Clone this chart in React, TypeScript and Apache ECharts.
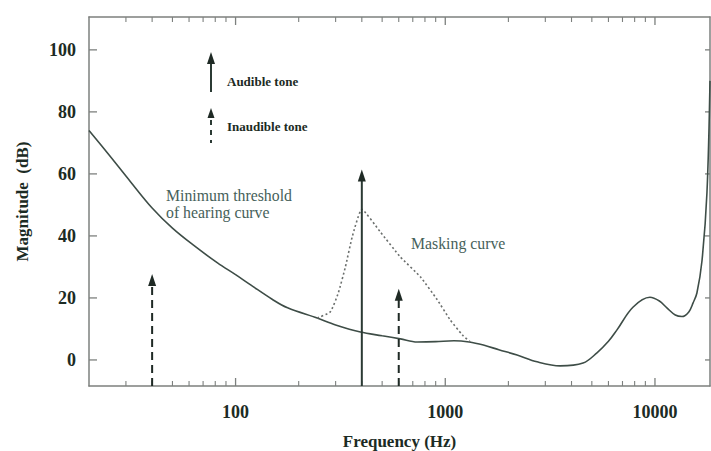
import React, { useEffect, useRef } from "react";
import * as echarts from "echarts";

// Minimum threshold of hearing curve
const thresholdHz = [20, 25, 31.6, 40, 50, 63, 82, 100, 118, 150, 177, 245, 300, 394, 500, 611, 735, 900, 1100, 1300, 1520, 1800, 2200, 2740, 3530, 4540, 5290, 6000, 6590, 7850, 9460, 10500, 11400, 12500, 13450, 14500, 15200, 15850, 16760, 17700, 18300];
const thresholdDb = [74, 66, 57.4, 49, 42.5, 37, 31.3, 27.5, 24.2, 19.5, 16.8, 13.5, 11.3, 9, 7.8, 6.8, 5.8, 5.9, 6.2, 5.8, 4.8, 3.3, 1.6, -0.6, -1.9, -1, 2.3, 6, 9.7, 17, 20.2, 19, 16.8, 14.5, 14, 15.5, 18.4, 21.6, 32, 54, 90];

// Masking curve around the 400 Hz tone
const maskingHz = [245, 283, 309, 334, 360, 400, 490, 611, 761, 916, 1056, 1205, 1315];
const maskingDb = [13.5, 15.5, 21.6, 30, 39.7, 48.6, 41.3, 33.2, 26.8, 19.4, 12.9, 8.1, 5.8];

// Tones (arrow head centre level)
const audibleToneHz = [400];
const audibleToneDb = [59.5];
const inaudibleToneHz = [40, 600];
const inaudibleToneDb = [25.8, 21];

const yTicks = [0, 20, 40, 60, 80, 100];
const xMajorHz = [100, 1000, 10000];
const xMinorHz = [30, 40, 50, 60, 70, 80, 90, 200, 300, 400, 500, 600, 700, 800, 900, 2000, 3000, 4000, 5000, 6000, 7000, 8000, 9000];

const X_MIN_HZ = 20;
const X_MAX_HZ = 18300;
const Y_MIN = -8.4;
const Y_MAX = 110.6;

const lg = (v: number) => Math.log10(v);
const SERIF = "'Liberation Serif', 'DejaVu Serif', serif";
const TEXT = "#1c2b24";
const AXIS = "#7d807e";
const CURVE = "#3e4d47";

export default function App() {
  const ref = useRef<HTMLDivElement>(null);

  useEffect(() => {
    if (!ref.current) return;
    const chart = echarts.init(ref.current, undefined, { renderer: "svg" });

    const baseX = {
      type: "value" as const,
      min: lg(X_MIN_HZ),
      max: lg(X_MAX_HZ),
      splitLine: { show: false },
      axisTick: { show: false },
      axisLine: { show: true, onZero: false, lineStyle: { color: AXIS, width: 1.5 } },
    };

    const toneSeries = (hz: number[], db: number[], dashed: boolean) =>
      hz.map((f, i) => ({
        type: "line",
        xAxisIndex: 0,
        yAxisIndex: 0,
        silent: true,
        z: 5,
        lineStyle: dashed
          ? { color: "#1f2a25", width: 2, type: [8, 5] }
          : { color: "#2b3a34", width: 2 },
        data: [
          { value: [lg(f), Y_MIN], symbol: "none" },
          { value: [lg(f), db[i]], symbol: "triangle", symbolSize: [8, 12] },
        ],
        itemStyle: { color: "#1f2a25" },
      }));

    // tick marks drawn through the axes' own scales
    const tickSeries = (data: number[][], size: number[], offset: number[]) => ({
      type: "scatter",
      xAxisIndex: 0,
      yAxisIndex: 0,
      silent: true,
      clip: false,
      symbol: "rect",
      symbolSize: size,
      symbolOffset: offset,
      itemStyle: { color: AXIS, opacity: 1 },
      data,
      z: 2,
    });

    chart.setOption({
      animation: false,
      backgroundColor: "#ffffff",
      grid: { left: 89, right: 1, top: 17, bottom: 65, outerBoundsMode: "none", containLabel: false },
      xAxis: [
        {
          ...baseX,
          position: "bottom",
          name: "Frequency (Hz)",
          nameLocation: "middle",
          nameGap: 47,
          nameTextStyle: { fontFamily: SERIF, fontSize: 17, fontWeight: "bold", color: TEXT },
          axisLabel: {
            show: true,
            customValues: xMajorHz.map(lg),
            formatter: (v: number) => String(Math.round(Math.pow(10, v))),
            fontFamily: SERIF,
            fontSize: 18,
            fontWeight: "bold",
            color: TEXT,
            margin: 17,
          },
        },
        {
          ...baseX,
          position: "top",
          axisLabel: { show: false },
        },
      ],
      yAxis: [
        {
          type: "value",
          min: Y_MIN,
          max: Y_MAX,
          position: "left",
          name: "Magnitude  (dB)",
          nameLocation: "middle",
          nameGap: 58,
          nameTextStyle: { fontFamily: SERIF, fontSize: 17, fontWeight: "bold", color: TEXT },
          splitLine: { show: false },
          axisTick: { show: false },
          axisLine: { show: true, onZero: false, lineStyle: { color: AXIS, width: 1.5 } },
          axisLabel: {
            show: true,
            customValues: yTicks,
            fontFamily: SERIF,
            fontSize: 18,
            fontWeight: "bold",
            color: TEXT,
            margin: 13,
          },
        },
        {
          type: "value",
          min: Y_MIN,
          max: Y_MAX,
          position: "right",
          splitLine: { show: false },
          axisTick: { show: false },
          axisLine: { show: true, onZero: false, lineStyle: { color: AXIS, width: 1.5 } },
          axisLabel: { show: false },
        },
      ],
      series: [
        {
          type: "line",
          name: "Minimum threshold of hearing curve",
          xAxisIndex: 0,
          yAxisIndex: 0,
          smooth: 0.35,
          symbol: "none",
          lineStyle: { color: CURVE, width: 1.6 },
          data: thresholdHz.map((f, i) => [lg(f), thresholdDb[i]]),
          z: 3,
        },
        {
          type: "line",
          name: "Masking curve",
          xAxisIndex: 0,
          yAxisIndex: 0,
          smooth: 0.15,
          symbol: "none",
          lineStyle: { color: "#6b6f6d", width: 1.6, type: [2, 2.5] },
          data: maskingHz.map((f, i) => [lg(f), maskingDb[i]]),
          z: 4,
        },
        ...toneSeries(audibleToneHz, audibleToneDb, false),
        ...toneSeries(inaudibleToneHz, inaudibleToneDb, true),
        // bottom ticks
        tickSeries(xMajorHz.map((f) => [lg(f), Y_MIN]), [1.3, 8], [0, -4]),
        tickSeries(xMinorHz.map((f) => [lg(f), Y_MIN]), [1.1, 5], [0, -2.5]),
        // top ticks
        tickSeries(xMajorHz.map((f) => [lg(f), Y_MAX]), [1.3, 8], [0, 4]),
        tickSeries(xMinorHz.map((f) => [lg(f), Y_MAX]), [1.1, 5], [0, 2.5]),
        // left / right ticks
        tickSeries(yTicks.map((v) => [lg(X_MIN_HZ), v]), [8, 1.3], [4, 0]),
        tickSeries(yTicks.map((v) => [lg(X_MAX_HZ), v]), [5, 1.3], [-2.5, 0]),
      ],
      graphic: [
        // legend: audible tone
        { type: "line", shape: { x1: 211, y1: 92, x2: 211, y2: 62 }, style: { stroke: "#2b3a34", lineWidth: 2 } },
        { type: "polygon", shape: { points: [[211, 52], [207, 64], [215, 64]] }, style: { fill: "#1f2a25" } },
        { type: "text", x: 227, y: 81, style: { text: "Audible tone", font: `bold 13px ${SERIF}`, fill: TEXT, verticalAlign: "middle" } },
        // legend: inaudible tone
        { type: "polygon", shape: { points: [[211, 108], [207.5, 118], [214.5, 118]] }, style: { fill: "#1f2a25" } },
        { type: "line", shape: { x1: 211, y1: 120, x2: 211, y2: 143 }, style: { stroke: "#2b3a34", lineWidth: 2, lineDash: [5, 5] } },
        { type: "text", x: 227, y: 126, style: { text: "Inaudible tone", font: `bold 13px ${SERIF}`, fill: TEXT, verticalAlign: "middle" } },
        // annotations
        { type: "text", x: 166, y: 195, style: { text: "Minimum threshold", font: `15.8px ${SERIF}`, fill: "#46615a", verticalAlign: "middle" } },
        { type: "text", x: 166, y: 212, style: { text: "of hearing curve", font: `15.8px ${SERIF}`, fill: "#46615a", verticalAlign: "middle" } },
        { type: "text", x: 411, y: 243, style: { text: "Masking curve", font: `15.8px ${SERIF}`, fill: "#46615a", verticalAlign: "middle" } },
      ],
    });

    return () => chart.dispose();
  }, []);

  return (
    <div
      ref={ref}
      style={{ position: "fixed", left: 0, top: 0, width: 711, height: 451, background: "#fff" }}
    />
  );
}
